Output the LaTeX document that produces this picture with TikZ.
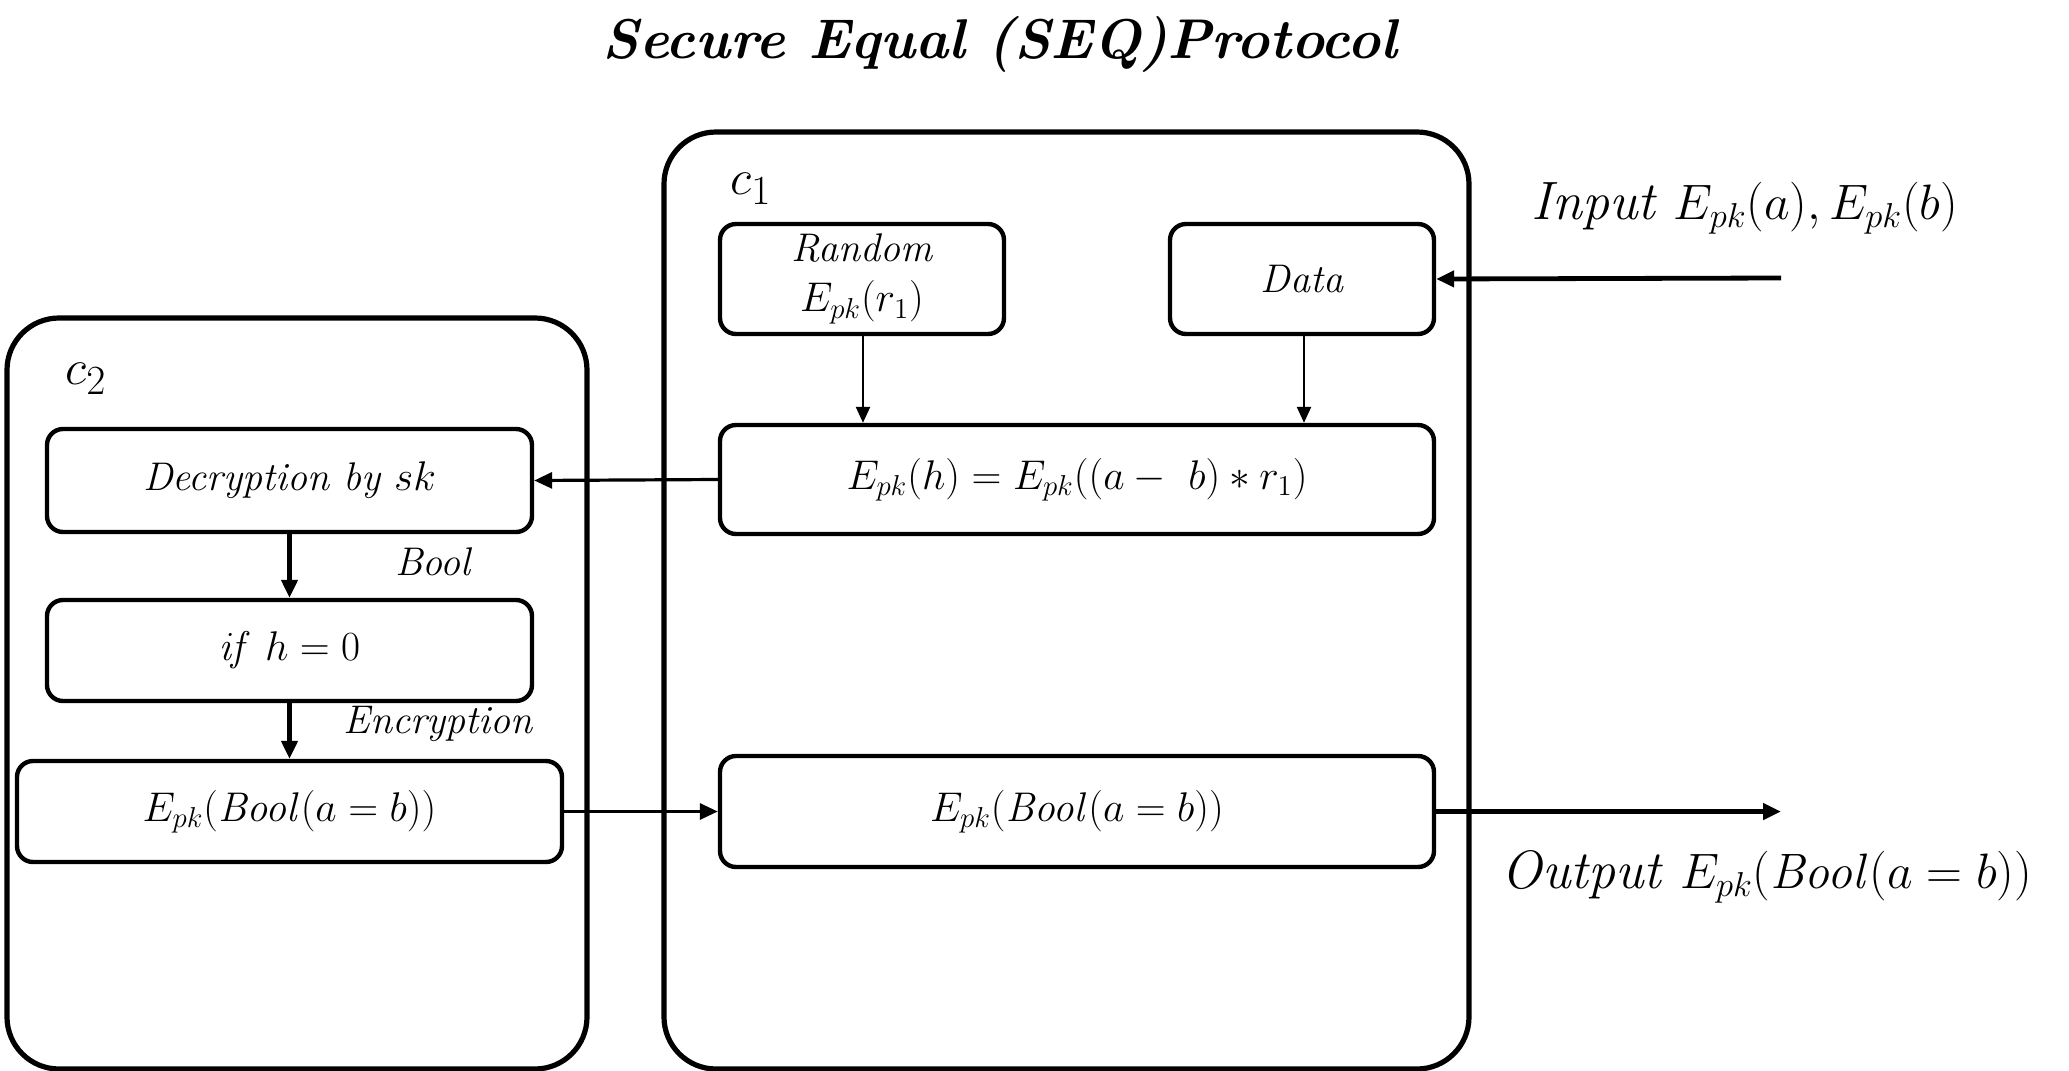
\documentclass[tikz,border=0pt]{standalone}
\usetikzlibrary{arrows.meta}
\begin{document}
\begin{tikzpicture}[x=0.5pt,y=-0.5pt,
  outer/.style={draw, line width=2.6pt, rounded corners=26pt},
  inbox/.style={draw, line width=2.2pt, rounded corners=8pt, inner sep=0pt, font=\fontsize{20}{23}\selectfont\itshape},
  lbl/.style={inner sep=0pt, font=\fontsize{20}{23}\selectfont\itshape},
  big/.style={inner sep=0pt, font=\fontsize{27}{30}\selectfont\itshape},
  arr/.style={-{Triangle[length=9pt,width=8pt]}, line width=1.6pt},
  arrthin/.style={-{Triangle[length=8pt,width=7pt]}, line width=1.2pt}]
\useasboundingbox (0,0) rectangle (2069,1071);
% title
\node[inner sep=0pt, font=\fontsize{28}{32}\selectfont\bfseries\itshape] (title) at (1000,44) {Secure Equal (SEQ)Protocol};
% containers
\node[outer, minimum width=402.5pt, minimum height=468.5pt] (c1) at (1066.5,600.5) {};
\node[outer, minimum width=290pt, minimum height=375.5pt] (c2) at (297,693.5) {};
\node[inner sep=0pt, font=\fontsize{31}{33}\selectfont] (c1l) at (751,189) {$c_1$};
\node[inner sep=0pt, font=\fontsize{31}{33}\selectfont] (c2l) at (86,379) {$c_2$};
% C1 boxes
\node[inbox, minimum width=142pt, minimum height=55pt, align=center] (rand) at (862,279) {Random\\[2pt] $E_{pk}(r_1)$};
\node[inbox, minimum width=132pt, minimum height=55pt] (data) at (1302,279) {Data};
\node[inbox, minimum width=357pt, minimum height=54.5pt, font=\fontsize{21.5}{24}\selectfont] (eh) at (1077,479.5) {$E_{pk}(h)=E_{pk}((a-\ b)*r_1)$};
\node[inbox, minimum width=357pt, minimum height=55.5pt, font=\fontsize{21}{24}\selectfont] (c1out) at (1077,811.5) {$E_{pk}(\mathit{Bool}(a=b))$};
% C2 boxes
\node[inbox, minimum width=242.5pt, minimum height=51.5pt] (dec) at (289.5,480.5) {Decryption by $sk$};
\node[inbox, minimum width=242.5pt, minimum height=50.5pt, font=\fontsize{21}{24}\selectfont] (ifh) at (289.5,650.5) {$\mathit{if}\ h=0$};
\node[inbox, minimum width=272.5pt, minimum height=50.5pt, font=\fontsize{21}{24}\selectfont] (c2out) at (289.5,811.5) {$E_{pk}(\mathit{Bool}(a=b))$};
% labels
\node[lbl] (bool) at (433,562) {Bool};
\node[lbl] (enc) at (438,724) {Encryption};
\node[big] (inlbl) at (1745,208) {Input $E_{pk}(a),E_{pk}(b)$};
\node[big] (outlbl) at (1767,877) {Output $E_{pk}(\mathit{Bool}(a=b))$};
% connectors
\coordinate (inpt) at (1781,278);
\coordinate (outpt) at (1781,811.5);
\draw[arrthin] (rand.south -| 863,0) -- (863,0 |- eh.north);
\draw[arrthin] (data.south -| 1304,0) -- (1304,0 |- eh.north);
\draw[arr] (eh.west) -- (dec.east);
\draw[arr, line width=2.4pt] (inpt) -- (data.east);
\draw[arr, line width=2.2pt] (dec.south) -- (ifh.north);
\draw[arr, line width=2.2pt] (ifh.south) -- (c2out.north);
\draw[arr] (c2out.east) -- (c1out.west);
\draw[arr, line width=2.4pt] (c1out.east) -- (outpt);
\end{tikzpicture}
\end{document}
